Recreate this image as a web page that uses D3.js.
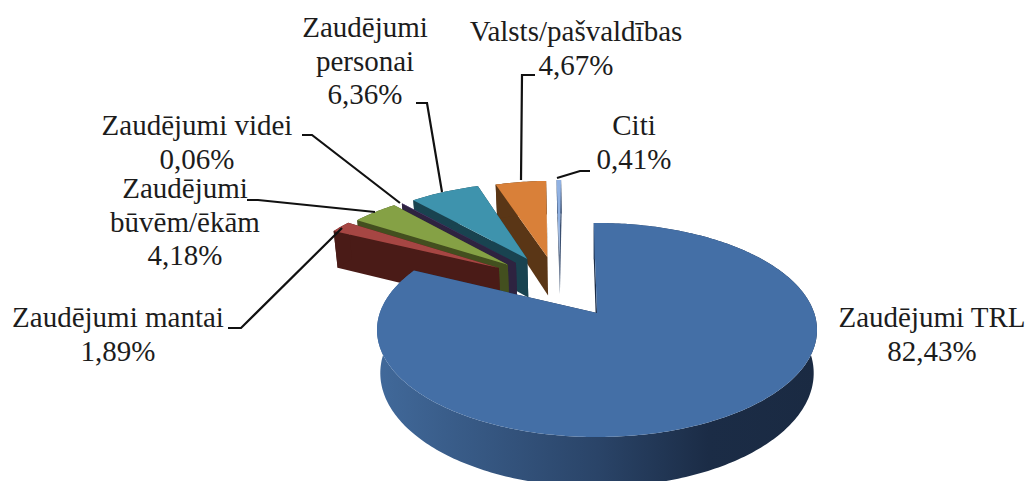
<!DOCTYPE html>
<html>
<head>
<meta charset="utf-8">
<script src="https://cdn.jsdelivr.net/npm/d3@7"></script>
<style>
html, body { margin: 0; padding: 0; background: #fff; overflow: hidden; }
text { font-family: "Liberation Serif", serif; font-size: 29px; fill: #1c1c1c; text-anchor: middle; }
</style>
</head>
<body>
<div id="chart"></div>
<script>
// data
var categories = ["Zaudējumi TRL", "Zaudējumi mantai", "Zaudējumi būvēm/ēkām", "Zaudējumi videi", "Zaudējumi personai", "Valsts/pašvaldības", "Citi"];
var values = [82.43, 1.89, 4.18, 0.06, 6.36, 4.67, 0.41];
var labelLines = [["Zaudējumi TRL"], ["Zaudējumi mantai"], ["Zaudējumi", "būvēm/ēkām"], ["Zaudējumi videi"], ["Zaudējumi", "personai"], ["Valsts/pašvaldības"], ["Citi"]];

// styles and layout
var topColors = ["#446fa6", "#a64643", "#85a145", "#5b4682", "#3e93ad", "#d98039", "#90b1e2"];
var wallColors = ["#1c2d47", "#4a1b17", "#434f1f", "#2e2340", "#194350", "#5a3616", "#3a4f70"];
var explode = [[0, 0], [-0.485, 0.464], [-0.443, 0.499], [-0.404, 0.52], [-0.35, 0.565], [-0.25, 0.587], [-0.19, 0.6]];
var labelPos = [[932, 327], [118, 327], [185, 198], [197, 135], [365, 37], [576, 41], [634, 135]];
var leaders = [
  null,
  [[228, 328], [241, 328], [342, 228]],
  [[247, 200], [258, 200], [375, 212]],
  [[302, 135], [312, 135], [400, 203]],
  [[416, 103], [427, 103], [442, 192]],
  [[535, 75], [522, 75], [521, 180]],
  [[590, 171], [580, 171], [557, 178]]
];
var lineHeight = 33.5;

var width = 1025, height = 481;
var cx = 597, cy = 313;      // where the pie centre lands on screen
var a = 104.3, b = 217.2;    // vertical and horizontal radius
var p = 0.159;               // perspective
var depth = 42;              // thickness of the pie

var svg = d3.select("#chart").append("svg")
  .attr("width", width)
  .attr("height", height);

var grad = svg.append("defs").append("linearGradient")
  .attr("id", "blueWall")
  .attr("gradientUnits", "userSpaceOnUse")
  .attr("x1", 378).attr("x2", 818).attr("y1", 0).attr("y2", 0);
grad.append("stop").attr("offset", "0").attr("stop-color", "#41699a");
grad.append("stop").attr("offset", "0.5").attr("stop-color", "#2a4468");
grad.append("stop").attr("offset", "0.75").attr("stop-color", "#1b2c46");
grad.append("stop").attr("offset", "1").attr("stop-color", "#1a2a42");

// disc coordinates -> screen, z = 0 top face, z = 1 bottom face
function project(X, Y, z) {
  var den = 1 + p * Y;
  var s = 1 - 0.015 * z;
  return [cx + b * X / den * s, cy - a * Y / den + depth * z / den];
}

var line = d3.line();
var rotation = -1 * Math.PI / 180;
var pie = d3.pie()
  .sort(null)
  .startAngle(rotation)
  .endAngle(rotation + 2 * Math.PI)
  .value(function(d) { return d; });
var slices = pie(values);

function rim(d, off, z) {
  var n = Math.max(2, Math.ceil((d.endAngle - d.startAngle) * 60));
  var pts = [];
  for (var i = 0; i <= n; i++) {
    var t = d.startAngle + (d.endAngle - d.startAngle) * i / n;
    pts.push(project(off[0] + Math.sin(t), off[1] + Math.cos(t), z));
  }
  return pts;
}

// back to front: last slice first, big blue one on top
var order = [6, 5, 4, 3, 2, 1, 0];
order.forEach(function(i) {
  var d = slices[i], off = explode[i];
  var g = svg.append("g").attr("class", "slice");
  var top = rim(d, off, 0), bottom = rim(d, off, 1);
  var c0 = project(off[0], off[1], 0), c1 = project(off[0], off[1], 1);

  // radial walls
  g.append("path").attr("fill", wallColors[i])
    .attr("d", line([c0, top[top.length - 1], bottom[bottom.length - 1], c1]) + "Z");
  g.append("path").attr("fill", wallColors[i])
    .attr("d", line([c0, top[0], bottom[0], c1]) + "Z");
  // outer wall
  g.append("path").attr("fill", i == 0 ? "url(#blueWall)" : wallColors[i])
    .attr("d", line(top.concat(bottom.slice().reverse())) + "Z");
  // top face
  g.append("path").attr("fill", topColors[i])
    .attr("d", line([c0].concat(top)) + "Z");
});

// leader lines
leaders.forEach(function(l) {
  if (!l) return;
  svg.append("path")
    .attr("d", line(l))
    .attr("fill", "none")
    .attr("stroke", "#111")
    .attr("stroke-width", 2.2);
});

// labels
categories.forEach(function(c, i) {
  var rows = labelLines[i].concat([values[i].toFixed(2).replace(".", ",") + "%"]);
  var t = svg.append("text").attr("data-category", c);
  rows.forEach(function(r, j) {
    t.append("tspan")
      .attr("x", labelPos[i][0])
      .attr("y", labelPos[i][1] + j * lineHeight)
      .text(r);
  });
});
</script>
</body>
</html>
